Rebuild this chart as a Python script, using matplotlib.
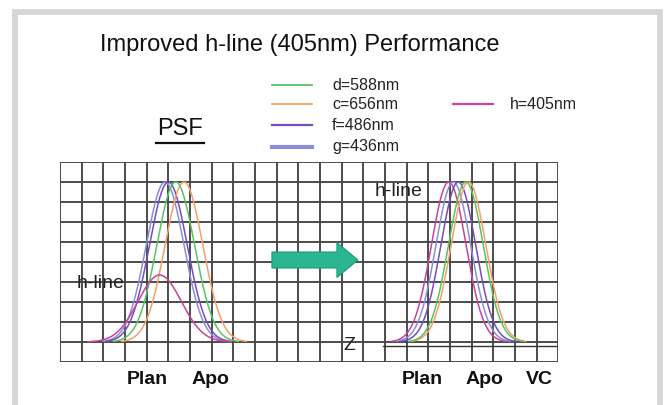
import numpy as np
import matplotlib
matplotlib.use("Agg")
import matplotlib.pyplot as plt
from matplotlib.lines import Line2D
from matplotlib.patches import Rectangle, FancyArrow

plt.rcParams['font.family'] = ['Liberation Sans', 'DejaVu Sans']

# ---- data (grid units) ----
series_names = ["d=588nm", "c=656nm", "f=486nm", "g=436nm"]
series_colors = ["#5cc264", "#f5a068", "#7050bc", "#8c8cd8"]
h_name = "h=405nm"
h_color = "#c8449c"

baseline = 1.0
# left panel (before): peak centers, peak heights, widths (sigma)
left_centers = [5.34, 5.72, 5.00, 4.85]
left_heights = [8.0, 8.0, 8.0, 8.0]
left_sigmas = [0.87, 0.87, 0.87, 0.87]
left_h_center = 4.6
left_h_height = 3.35
left_h_sigma = 1.0

# right panel (after)
right_centers = [18.73, 18.85, 18.38, 18.15]
right_heights = [8.0, 8.0, 8.0, 8.0]
right_sigmas = [0.8, 0.8, 0.8, 0.8]
right_h_center = 17.94
right_h_height = 8.0
right_h_sigma = 0.8

left_ticklabels = ["Plan", "Apo"]
right_ticklabels = ["Plan", "Apo", "VC"]

W, H = 665, 405
fig = plt.figure(figsize=(W / 100, H / 100), dpi=100)
fig.patch.set_facecolor("white")


def fx(x):
    return x / W


def fy(y):
    return 1 - y / H


# outer grey frame
fig.add_artist(Rectangle((fx(14.5), fy(430)), fx(660) - fx(14.5), fy(12) - fy(430),
                         transform=fig.transFigure, fill=False,
                         edgecolor="#d6d6d6", linewidth=4.2))

ax = fig.add_axes([fx(60), fy(362), fx(558.4) - fx(60), fy(162) - fy(362)])
ax.set_xlim(0, 23)
ax.set_ylim(0, 10)
ax.axis("off")

grid_color = "#454545"
for gx in range(0, 24):
    ax.plot([gx, gx], [0, 10], color=grid_color, lw=1.35, zorder=1, solid_capstyle="butt")
for gy in range(0, 11):
    ax.plot([0, 23], [gy, gy], color=grid_color, lw=1.35, zorder=1, solid_capstyle="butt")


def bell(c, h, s, color, lw=1.1):
    x = np.linspace(c - 3.3 * s, c + 3.3 * s, 300)
    y = baseline + h * np.exp(-0.5 * ((x - c) / s) ** 2)
    ax.plot(x, y, color=color, lw=lw, zorder=3)


for c, h, s, col in zip(left_centers[::-1], left_heights[::-1], left_sigmas[::-1], series_colors[::-1]):
    bell(c, h, s, col)
bell(left_h_center, left_h_height, left_h_sigma, h_color)

bell(right_h_center, right_h_height, right_h_sigma, h_color)
for c, h, s, col in zip(right_centers[::-1], right_heights[::-1], right_sigmas[::-1], series_colors[::-1]):
    bell(c, h, s, col)

# Z axis line
ax.plot([14.9, 23], [0.8, 0.8], color="#333333", lw=1.0, zorder=2)
ax.text(13.34, 0.85, "Z", fontsize=14, ha="center", va="center", color="#222222", zorder=4)

# arrow
ax.add_patch(FancyArrow(9.78, 5.1, 13.75 - 9.78, 0, width=0.8, head_width=1.75,
                        head_length=0.97, length_includes_head=True,
                        facecolor="#2bb590", edgecolor="#1e9c7a", lw=0.8, zorder=4))

# h-line labels
fig.text(fx(101), fy(283), "h-line", fontsize=14, ha="center", va="center", color="#222222")
fig.text(fx(399), fy(191), "h-line", fontsize=14, ha="center", va="center", color="#222222")

# bottom labels
for lab, xc in zip(left_ticklabels, [147, 210]):
    fig.text(fx(xc), fy(380), lab, fontsize=14, fontweight="bold", ha="center", va="center", color="#111111")
for lab, xc in zip(right_ticklabels, [422, 484, 539]):
    fig.text(fx(xc), fy(380), lab, fontsize=14, fontweight="bold", ha="center", va="center", color="#111111")

# title
fig.text(fx(300), fy(45), "Improved h-line (405nm) Performance", fontsize=17,
         ha="center", va="center", color="#111111")

# PSF underlined
fig.text(fx(180), fy(129), "PSF", fontsize=17, ha="center", va="center", color="#111111")
fig.add_artist(Line2D([fx(156), fx(204)], [fy(142.5), fy(142.5)], transform=fig.transFigure,
                      color="#111111", lw=1.6))

# legend
leg_y = [85, 104, 125, 147]
leg_lw = [1.3, 1.3, 1.6, 3.0]
for name, col, yy, lw in zip(series_names, series_colors, leg_y, leg_lw):
    fig.add_artist(Line2D([fx(272), fx(312)], [fy(yy), fy(yy)], transform=fig.transFigure,
                          color=col, lw=lw))
    fig.text(fx(332), fy(yy), name, fontsize=11.5, ha="left", va="center", color="#222222")
fig.add_artist(Line2D([fx(453), fx(493)], [fy(104), fy(104)], transform=fig.transFigure,
                      color=h_color, lw=1.6))
fig.text(fx(510), fy(104), h_name, fontsize=11.5, ha="left", va="center", color="#222222")

fig.savefig("out.png", dpi=100)
